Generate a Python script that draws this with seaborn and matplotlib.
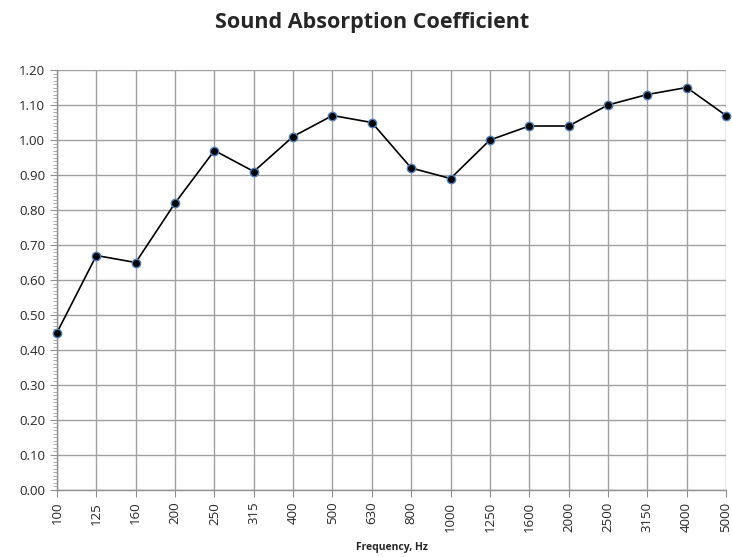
import matplotlib
matplotlib.use("Agg")
import matplotlib.pyplot as plt
import seaborn as sns
import pandas as pd
from matplotlib.ticker import MultipleLocator, FormatStrFormatter

freqs = ["100", "125", "160", "200", "250", "315", "400", "500", "630", "800",
         "1000", "1250", "1600", "2000", "2500", "3150", "4000", "5000"]
coef = [0.45, 0.67, 0.65, 0.82, 0.97, 0.91, 1.01, 1.07, 1.05, 0.92,
        0.89, 1.00, 1.04, 1.04, 1.10, 1.13, 1.15, 1.07]

df = pd.DataFrame({"freq": freqs, "coef": coef})

sns.set_style("white")
plt.rcParams['font.family'] = ['Open Sans', 'DejaVu Sans']

fig = plt.figure(figsize=(7.32, 5.57), dpi=100)
ax = fig.add_axes([0.0779, 0.1203, 0.9918 - 0.0779, 0.8743 - 0.1203])

sns.lineplot(data=df, x="freq", y="coef", sort=False, ax=ax, color="black",
             linewidth=1.2, marker="o", markersize=6, markerfacecolor="black",
             markeredgecolor="#4a7ebb", markeredgewidth=1.0, zorder=3,
             clip_on=False)

ax.set_xlim(0, len(freqs) - 1)
ax.set_ylim(0, 1.2)
ax.yaxis.set_major_locator(MultipleLocator(0.1))
ax.yaxis.set_minor_locator(MultipleLocator(0.01))
ax.yaxis.set_major_formatter(FormatStrFormatter("%.2f"))
ax.set_xticks(range(len(freqs)))
ax.set_xticklabels(freqs, rotation=90)

ax.grid(True, which="major", color="#a0a0a0", linewidth=1.0)
ax.set_axisbelow(True)
for s in ["top", "right"]:
    ax.spines[s].set_visible(False)
for s in ["left", "bottom"]:
    ax.spines[s].set_color("#909090")
    ax.spines[s].set_linewidth(1.0)

ax.tick_params(axis="both", which="major", length=5, color="#909090",
               labelsize=9.5, direction="out", left=True, bottom=True)
ax.tick_params(axis="y", which="minor", length=3, color="#a0a0a0", left=True)

ax.set_xlabel("Frequency, Hz", fontsize=7.5, fontweight="bold", labelpad=7)
ax.set_ylabel("")
fig.suptitle("Sound Absorption Coefficient", fontsize=15.5, fontweight="bold",
             x=0.508, y=0.978)

fig.savefig("out.png", dpi=100)
